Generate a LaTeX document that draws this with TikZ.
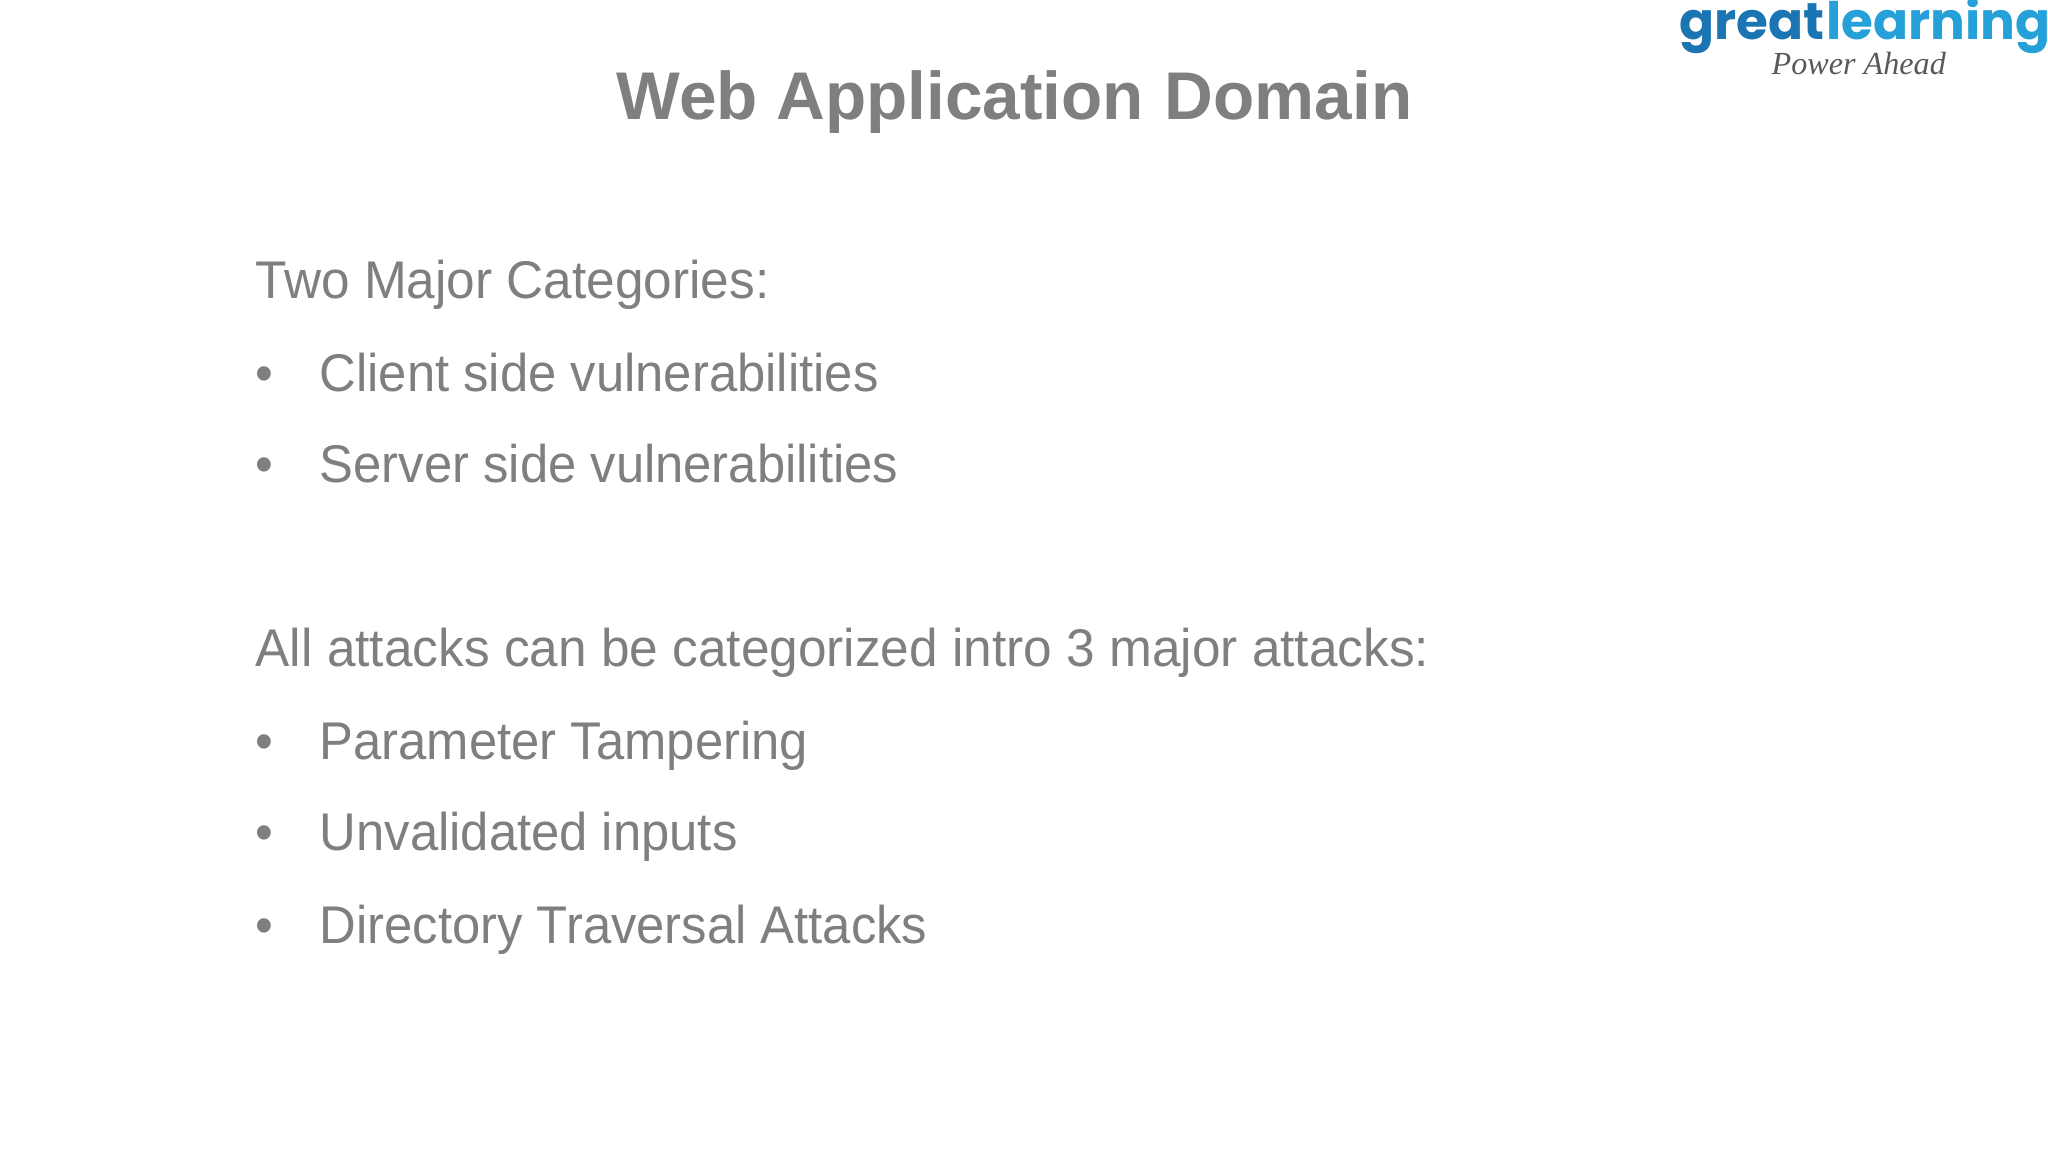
\documentclass[tikz,border=0pt]{standalone}
\usepackage{xcolor}
\usepackage{fontspec}
\setmainfont{Liberation Sans}
\newfontfamily\logofont{Poppins}
\newfontfamily\tagfont{Liberation Serif}
\newfontfamily\itemfont[FakeStretch=0.957]{Liberation Sans}
\newfontfamily\leadfont[FakeStretch=0.968]{Liberation Sans}
\usetikzlibrary{positioning}
\definecolor{slidegray}{HTML}{7F7F7F}
\definecolor{logodark}{HTML}{1B75B3}
\definecolor{logolight}{HTML}{25A0D8}
\definecolor{taggray}{HTML}{58595B}

\begin{document}
\begin{tikzpicture}[
    heading/.style={anchor=base west, inner sep=0pt, text=slidegray, font=\bfseries\fontsize{19.2}{23}\selectfont},
    body/.style={anchor=base west, inner sep=0pt, text=slidegray, font=\itemfont\fontsize{15.1}{18}\selectfont},
    lead/.style={body, font=\leadfont\fontsize{15.1}{18}\selectfont},
    bullet/.style={body},
    logo/.style={anchor=base west, inner sep=0pt, font=\logofont\bfseries\fontsize{14.7}{17}\selectfont},
]
\useasboundingbox (0,0) rectangle (20.48,11.51);

% Title
\node[heading] (title) at (6.16,10.31) {Web Application\hspace{0.02cm} Domain};

% Logo
\node[logo, text=logodark] (great) at (16.79,11.11) {great};
\node[logo, text=logolight, right=0pt of great.base east, anchor=base west] (learning) {learning};
\node[anchor=base west, inner sep=0pt, text=taggray, font=\tagfont\itshape\fontsize{9.15}{11}\selectfont] (tagline) at (17.71,10.76) {Power Ahead};

% Two categories
\node[lead] (categories) at (2.55,8.52) {Two Major Categories:};
\node[bullet, below=0.93cm of categories.base west, anchor=base west] (bulletone) {•};
\node[body, right=0.64cm of bulletone.base west, anchor=base west] (client) {Client side vulnerabilities};
\node[bullet, below=0.91cm of bulletone.base west, anchor=base west] (bullettwo) {•};
\node[body, right=0.64cm of bullettwo.base west, anchor=base west] (server) {Server side vulnerabilities};

% Three attacks
\node[lead, below=1.84cm of bullettwo.base west, anchor=base west] (attacks) {All attacks can be categorized intro 3 major attacks:};
\node[bullet, below=0.93cm of attacks.base west, anchor=base west] (bulletthree) {•};
\node[body, right=0.64cm of bulletthree.base west, anchor=base west] (tampering) {Parameter Tampering};
\node[bullet, below=0.91cm of bulletthree.base west, anchor=base west] (bulletfour) {•};
\node[body, right=0.64cm of bulletfour.base west, anchor=base west] (inputs) {Unvalidated inputs};
\node[bullet, below=0.93cm of bulletfour.base west, anchor=base west] (bulletfive) {•};
\node[body, right=0.64cm of bulletfive.base west, anchor=base west] (traversal) {Directory Traversal Attacks};

\end{tikzpicture}
\end{document}
